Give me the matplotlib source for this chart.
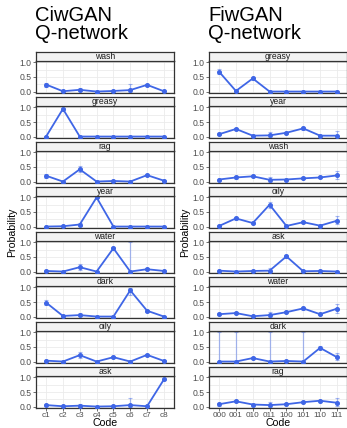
import numpy as np
import matplotlib
matplotlib.use("Agg")
import matplotlib.pyplot as plt

plt.rcParams['font.family'] = ['Liberation Sans', 'DejaVu Sans']

# CiwGAN Q-network (codes c1..c8)
ciw_codes = ['c1', 'c2', 'c3', 'c4', 'c5', 'c6', 'c7', 'c8']
ciw_words = ['wash', 'greasy', 'rag', 'year', 'water', 'dark', 'oily', 'ask']
ciw_wash = [0.24, 0.01, 0.06, 0.0, 0.02, 0.05, 0.23, 0.01]
ciw_wash_lo = [0.17, 0.0, 0.01, 0.0, 0.0, 0.0, 0.20, 0.0]
ciw_wash_hi = [0.31, 0.03, 0.11, 0.01, 0.04, 0.27, 0.27, 0.03]
ciw_greasy = [0.0, 0.95, 0.0, 0.0, 0.0, 0.0, 0.0, 0.0]
ciw_greasy_lo = [0.0, 0.92, 0.0, 0.0, 0.0, 0.0, 0.0, 0.0]
ciw_greasy_hi = [0.01, 0.98, 0.01, 0.01, 0.01, 0.01, 0.01, 0.01]
ciw_rag = [0.2, 0.0, 0.42, 0.0, 0.02, 0.0, 0.22, 0.03]
ciw_rag_lo = [0.13, 0.0, 0.32, 0.0, 0.0, 0.0, 0.18, 0.0]
ciw_rag_hi = [0.27, 0.01, 0.52, 0.01, 0.05, 0.01, 0.26, 0.06]
ciw_year = [0.0, 0.01, 0.07, 1.0, 0.0, 0.0, 0.0, 0.0]
ciw_year_lo = [0.0, 0.0, 0.02, 0.98, 0.0, 0.0, 0.0, 0.0]
ciw_year_hi = [0.01, 0.02, 0.13, 1.0, 0.01, 0.01, 0.01, 0.01]
ciw_water = [0.02, 0.0, 0.15, 0.0, 0.8, 0.0, 0.08, 0.02]
ciw_water_lo = [0.0, 0.0, 0.06, 0.0, 0.74, 0.0, 0.05, 0.0]
ciw_water_hi = [0.05, 0.01, 0.26, 0.01, 0.86, 1.0, 0.11, 0.04]
ciw_dark = [0.48, 0.02, 0.05, 0.0, 0.0, 0.9, 0.2, 0.0]
ciw_dark_lo = [0.39, 0.0, 0.01, 0.0, 0.0, 0.75, 0.16, 0.0]
ciw_dark_hi = [0.57, 0.04, 0.11, 0.01, 0.01, 0.98, 0.24, 0.01]
ciw_oily = [0.03, 0.0, 0.22, 0.0, 0.15, 0.0, 0.23, 0.02]
ciw_oily_lo = [0.0, 0.0, 0.12, 0.0, 0.11, 0.0, 0.19, 0.0]
ciw_oily_hi = [0.06, 0.01, 0.33, 0.01, 0.19, 0.01, 0.27, 0.04]
ciw_ask = [0.05, 0.01, 0.03, 0.0, 0.01, 0.05, 0.01, 0.93]
ciw_ask_lo = [0.01, 0.0, 0.0, 0.0, 0.0, 0.0, 0.0, 0.9]
ciw_ask_hi = [0.09, 0.02, 0.09, 0.01, 0.02, 0.28, 0.02, 0.96]

# FiwGAN Q-network (codes 000..111)
fiw_codes = ['000', '001', '010', '011', '100', '101', '110', '111']
fiw_words = ['greasy', 'year', 'wash', 'oily', 'ask', 'water', 'dark', 'rag']
fiw_greasy = [0.68, 0.02, 0.45, 0.0, 0.0, 0.0, 0.0, 0.0]
fiw_greasy_lo = [0.6, 0.0, 0.4, 0.0, 0.0, 0.0, 0.0, 0.0]
fiw_greasy_hi = [0.76, 0.04, 0.51, 0.01, 0.01, 0.01, 0.01, 0.01]
fiw_year = [0.08, 0.26, 0.03, 0.04, 0.13, 0.28, 0.03, 0.03]
fiw_year_lo = [0.04, 0.22, 0.01, 0.0, 0.1, 0.23, 0.01, 0.0]
fiw_year_hi = [0.13, 0.31, 0.05, 0.15, 0.17, 0.33, 0.05, 0.18]
fiw_wash = [0.07, 0.14, 0.18, 0.06, 0.07, 0.11, 0.14, 0.21]
fiw_wash_lo = [0.04, 0.1, 0.14, 0.0, 0.05, 0.08, 0.11, 0.1]
fiw_wash_hi = [0.1, 0.19, 0.23, 0.17, 0.1, 0.15, 0.18, 0.35]
fiw_oily = [0.02, 0.28, 0.12, 0.75, 0.02, 0.15, 0.03, 0.2]
fiw_oily_lo = [0.0, 0.22, 0.08, 0.64, 0.0, 0.11, 0.01, 0.09]
fiw_oily_hi = [0.04, 0.34, 0.16, 0.86, 0.04, 0.19, 0.05, 0.36]
fiw_ask = [0.03, 0.0, 0.02, 0.03, 0.52, 0.01, 0.02, 0.0]
fiw_ask_lo = [0.0, 0.0, 0.0, 0.0, 0.48, 0.0, 0.0, 0.0]
fiw_ask_hi = [0.06, 0.01, 0.04, 0.13, 0.56, 0.02, 0.04, 0.02]
fiw_water = [0.08, 0.12, 0.01, 0.05, 0.15, 0.28, 0.08, 0.27]
fiw_water_lo = [0.04, 0.08, 0.0, 0.0, 0.12, 0.23, 0.05, 0.13]
fiw_water_hi = [0.12, 0.16, 0.03, 0.16, 0.18, 0.34, 0.11, 0.42]
fiw_dark = [0.0, 0.0, 0.12, 0.0, 0.02, 0.0, 0.47, 0.15]
fiw_dark_lo = [0.0, 0.0, 0.09, 0.0, 0.0, 0.0, 0.42, 0.05]
fiw_dark_hi = [1.0, 1.0, 0.15, 1.0, 0.04, 1.0, 0.52, 0.3]
fiw_rag = [0.08, 0.18, 0.07, 0.05, 0.08, 0.15, 0.2, 0.13]
fiw_rag_lo = [0.03, 0.14, 0.04, 0.0, 0.05, 0.11, 0.16, 0.02]
fiw_rag_hi = [0.13, 0.22, 0.1, 0.16, 0.11, 0.19, 0.24, 0.28]

ciw_mean = [ciw_wash, ciw_greasy, ciw_rag, ciw_year, ciw_water, ciw_dark, ciw_oily, ciw_ask]
ciw_lo = [ciw_wash_lo, ciw_greasy_lo, ciw_rag_lo, ciw_year_lo, ciw_water_lo, ciw_dark_lo, ciw_oily_lo, ciw_ask_lo]
ciw_hi = [ciw_wash_hi, ciw_greasy_hi, ciw_rag_hi, ciw_year_hi, ciw_water_hi, ciw_dark_hi, ciw_oily_hi, ciw_ask_hi]
fiw_mean = [fiw_greasy, fiw_year, fiw_wash, fiw_oily, fiw_ask, fiw_water, fiw_dark, fiw_rag]
fiw_lo = [fiw_greasy_lo, fiw_year_lo, fiw_wash_lo, fiw_oily_lo, fiw_ask_lo, fiw_water_lo, fiw_dark_lo, fiw_rag_lo]
fiw_hi = [fiw_greasy_hi, fiw_year_hi, fiw_wash_hi, fiw_oily_hi, fiw_ask_hi, fiw_water_hi, fiw_dark_hi, fiw_rag_hi]

W, H = 347, 428
fig = plt.figure(figsize=(W / 100, H / 100), dpi=100)
blue = '#3F66E6'
dark = '#333333'

def px_axes(x0, y0, w, h):
    return fig.add_axes([x0 / W, 1 - (y0 + h) / H, w / W, h / H])

def column(x0, codes, words, means, los, his, title):
    aw = 138
    fig.text((x0 - 1) / W, 1 - 6 / H, title, fontsize=14.5, va='top', ha='left',
             linespacing=0.95)
    fig.text((x0 - 24) / W, 1 - 232 / H, 'Probability', rotation=90, fontsize=7.6,
             ha='center', va='center')
    for i, word in enumerate(words):
        top = 61 + 45 * i
        ax = px_axes(x0, top, aw, 32)
        x = np.arange(1, len(codes) + 1)
        m = np.array(means[i])
        lo = np.array(los[i])
        hi = np.array(his[i])
        ax.errorbar(x, m, yerr=[m - lo, hi - m], fmt='none', ecolor=blue,
                    alpha=0.45, elinewidth=0.9, capsize=1.5, capthick=0.8, zorder=2)
        ax.plot(x, m, color=blue, lw=1.3, marker='o', ms=2.6, zorder=3)
        ax.set_xlim(0.4, len(codes) + 0.6)
        ax.set_ylim(-0.05, 1.05)
        ax.set_yticks([0, 0.5, 1.0])
        ax.set_yticklabels(['0.0', '0.5', '1.0'])
        ax.set_yticks([0.25, 0.75], minor=True)
        ax.set_xticks(x)
        ax.grid(True, which='both', color='#EBEBEB', lw=0.6)
        ax.set_axisbelow(True)
        for s in ax.spines.values():
            s.set_color(dark)
            s.set_linewidth(0.9)
        ax.tick_params(axis='both', which='major', length=2, width=0.5, color=dark,
                       labelsize=6.2, labelcolor='#4D4D4D', pad=1)
        ax.tick_params(axis='x', labelsize=5.9)
        ax.tick_params(axis='y', which='minor', length=0)
        if i == len(words) - 1:
            ax.set_xticklabels(codes)
            ax.set_xlabel('Code', fontsize=7.6, labelpad=-0.5)
        else:
            ax.tick_params(axis='x', labelbottom=False, length=0)
        st = px_axes(x0, top - 9, aw, 9)
        st.set_facecolor('#F2F2F2')
        st.set_xticks([])
        st.set_yticks([])
        for s in st.spines.values():
            s.set_color(dark)
            s.set_linewidth(0.9)
        st.text(0.5, 0.45, word, transform=st.transAxes, ha='center', va='center',
                fontsize=6.2, color='#1A1A1A')

column(36, ciw_codes, ciw_words, ciw_mean, ciw_lo, ciw_hi, 'CiwGAN\nQ-network')
column(209, fiw_codes, fiw_words, fiw_mean, fiw_lo, fiw_hi, 'FiwGAN\nQ-network')

fig.savefig('out.png', dpi=100)
